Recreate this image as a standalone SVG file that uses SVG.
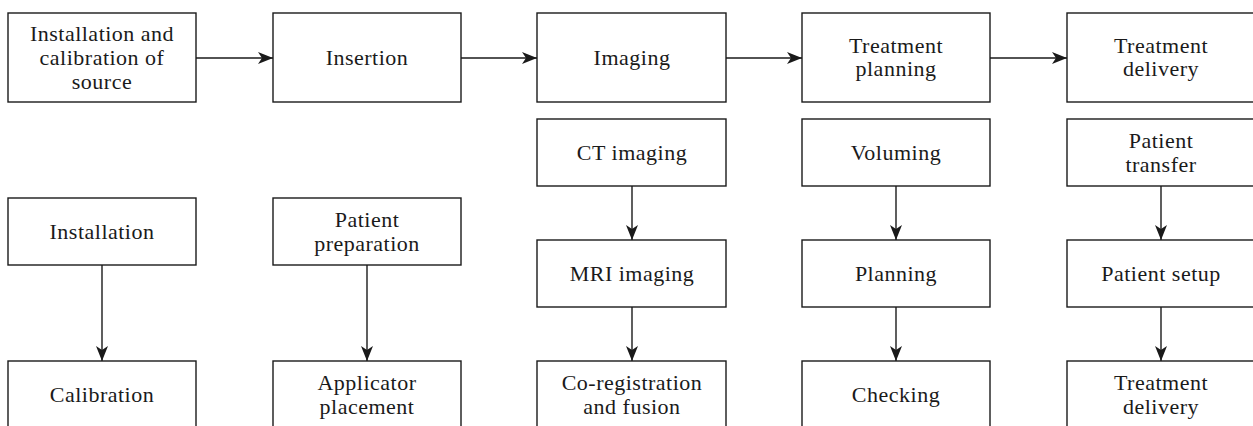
<svg xmlns="http://www.w3.org/2000/svg" width="1253" height="426" viewBox="0 0 1253 426">
<style>
.box{fill:#fff;stroke:#1a1a1a;stroke-width:1.4}
.t{font-family:"Liberation Serif","DejaVu Serif",serif;font-size:22px;letter-spacing:0.5px;fill:#1a1a1a;text-anchor:middle}
.c{stroke:#1a1a1a;stroke-width:1.4;fill:none;marker-end:url(#ah)}
</style>
<defs>
<marker id="ah" markerUnits="userSpaceOnUse" markerWidth="18" markerHeight="16" viewBox="0 0 18 16" refX="16" refY="8" orient="auto">
<path d="M1,2 L16,8 L1,14 L5,8 Z" fill="#1a1a1a"/>
</marker>
</defs>
<rect width="1253" height="426" fill="#fff"/>
<g id="connectors">
<line class="c" x1="196" y1="58" x2="273" y2="58"/>
<line class="c" x1="461" y1="58" x2="537" y2="58"/>
<line class="c" x1="726" y1="58" x2="802" y2="58"/>
<line class="c" x1="990" y1="58" x2="1067" y2="58"/>
<line class="c" x1="102" y1="265" x2="102" y2="361"/>
<line class="c" x1="367" y1="265" x2="367" y2="361"/>
<line class="c" x1="632" y1="186" x2="632" y2="240"/>
<line class="c" x1="632" y1="307" x2="632" y2="361"/>
<line class="c" x1="896" y1="186" x2="896" y2="240"/>
<line class="c" x1="896" y1="307" x2="896" y2="361"/>
<line class="c" x1="1161" y1="186" x2="1161" y2="240"/>
<line class="c" x1="1161" y1="307" x2="1161" y2="361"/>
</g>
<g id="n1"><rect class="box" x="8" y="13" width="188" height="89"/><text class="t" x="102" y="41">Installation and</text><text class="t" x="102" y="65">calibration of</text><text class="t" x="102" y="89">source</text></g>
<g id="n2"><rect class="box" x="273" y="13" width="188" height="89"/><text class="t" x="367" y="65">Insertion</text></g>
<g id="n3"><rect class="box" x="537" y="13" width="189" height="89"/><text class="t" x="632" y="65">Imaging</text></g>
<g id="n4"><rect class="box" x="802" y="13" width="188" height="89"/><text class="t" x="896" y="53">Treatment</text><text class="t" x="896" y="76">planning</text></g>
<g id="n5"><rect class="box" x="1067" y="13" width="188" height="89"/><text class="t" x="1161" y="53">Treatment</text><text class="t" x="1161" y="76">delivery</text></g>
<g id="n6"><rect class="box" x="8" y="198" width="188" height="67"/><text class="t" x="102" y="239">Installation</text></g>
<g id="n7"><rect class="box" x="8" y="361" width="188" height="80"/><text class="t" x="102" y="402">Calibration</text></g>
<g id="n8"><rect class="box" x="273" y="198" width="188" height="67"/><text class="t" x="367" y="227">Patient</text><text class="t" x="367" y="251">preparation</text></g>
<g id="n9"><rect class="box" x="273" y="361" width="188" height="80"/><text class="t" x="367" y="390">Applicator</text><text class="t" x="367" y="414">placement</text></g>
<g id="n10"><rect class="box" x="537" y="119" width="189" height="67"/><text class="t" x="632" y="160">CT imaging</text></g>
<g id="n11"><rect class="box" x="537" y="240" width="189" height="67"/><text class="t" x="632" y="281">MRI imaging</text></g>
<g id="n12"><rect class="box" x="537" y="361" width="189" height="80"/><text class="t" x="632" y="390">Co-registration</text><text class="t" x="632" y="414">and fusion</text></g>
<g id="n13"><rect class="box" x="802" y="119" width="188" height="67"/><text class="t" x="896" y="160">Voluming</text></g>
<g id="n14"><rect class="box" x="802" y="240" width="188" height="67"/><text class="t" x="896" y="281">Planning</text></g>
<g id="n15"><rect class="box" x="802" y="361" width="188" height="80"/><text class="t" x="896" y="402">Checking</text></g>
<g id="n16"><rect class="box" x="1067" y="119" width="188" height="67"/><text class="t" x="1161" y="148">Patient</text><text class="t" x="1161" y="172">transfer</text></g>
<g id="n17"><rect class="box" x="1067" y="240" width="188" height="67"/><text class="t" x="1161" y="281">Patient setup</text></g>
<g id="n18"><rect class="box" x="1067" y="361" width="188" height="80"/><text class="t" x="1161" y="390">Treatment</text><text class="t" x="1161" y="414">delivery</text></g>
</svg>
